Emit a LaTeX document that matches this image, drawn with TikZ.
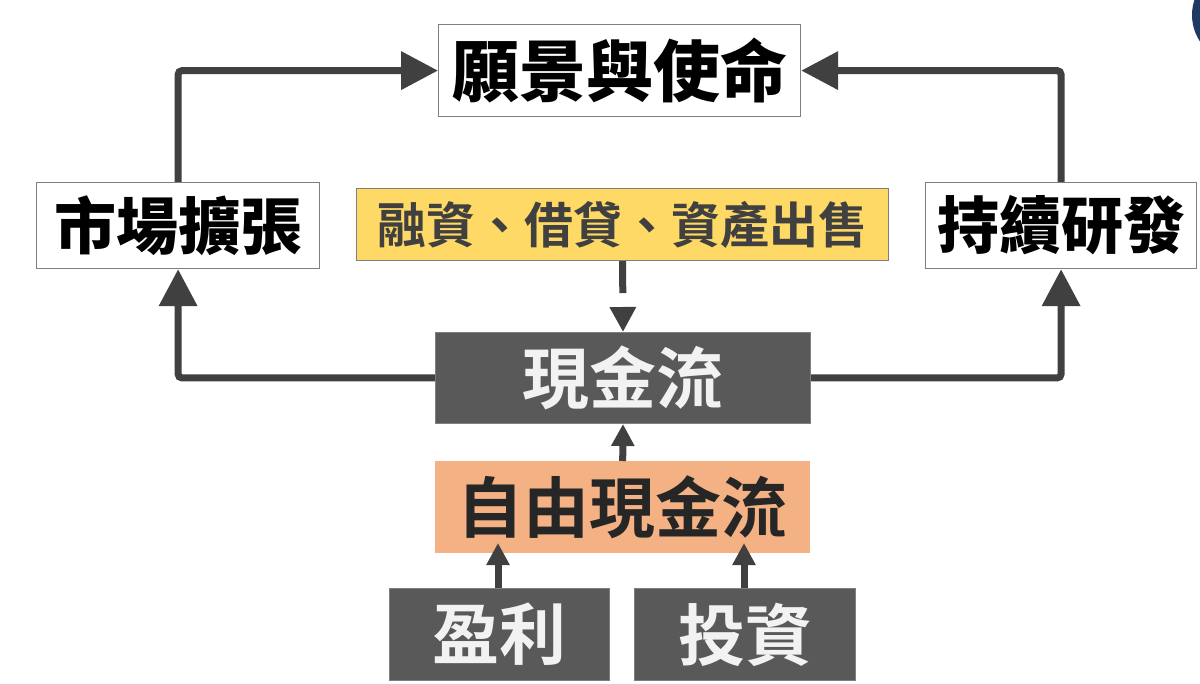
\documentclass[tikz,border=0pt]{standalone}
\usepackage{fontspec}
\setmainfont{Noto Sans CJK TC}[BoldFont={Noto Sans CJK TC Bold}]
\newfontfamily\heavycjk{Noto Sans CJK TC Black}
\usetikzlibrary{arrows.meta}
\definecolor{arrowgray}{HTML}{404040}
\definecolor{boxdark}{HTML}{595959}
\definecolor{boxline}{HTML}{7F7F7F}
\definecolor{lighttext}{HTML}{F2F2F2}
\definecolor{yellowbox}{HTML}{FFD966}
\definecolor{orangebox}{HTML}{F4B183}
\definecolor{navy}{HTML}{1F3864}
\tikzset{
  box/.style={rectangle, inner sep=0pt, anchor=north west, font=\bfseries},
  whitebox/.style={box, fill=white, draw=boxline, line width=1.2pt, text=black},
  darkbox/.style={box, fill=boxdark, draw=boxline, line width=1pt, text=lighttext},
  ybox/.style={box, fill=yellowbox, draw=boxline, line width=1.2pt, text=arrowgray},
  obox/.style={box, fill=orangebox, text=black!85},
  bigarr/.style={draw=arrowgray, line width=7pt, rounded corners=4pt, -{Triangle[length=37pt,width=37pt]}, arrowgray},
  smallarr/.style={draw=arrowgray, line width=7pt, -{Triangle[length=22pt,width=22pt]}, arrowgray},
  dasharr/.style={draw=arrowgray, line width=7pt, dash pattern=on 32pt off 60pt, -{Triangle[length=25pt,width=25pt]}, arrowgray}
}
\newcommand{\fs}[1]{\fontsize{#1}{#1}\selectfont}
\begin{document}
\begin{tikzpicture}[x=1pt,y=-1pt]
\useasboundingbox (0,0) rectangle (1200,684);
\clip (0,0) rectangle (1200,684);
\fill[white] (0,0) rectangle (1200,684);
\fill[navy] (1240,15) circle (48);

\node[whitebox, minimum width=362pt, minimum height=92pt, font=\heavycjk\fs{67}] (vis) at (438,24) {願景與使命};
\node[whitebox, minimum width=283pt, minimum height=86pt, font=\heavycjk\fs{62}] (mkt) at (36,182) {市場擴張};
\node[whitebox, minimum width=271pt, minimum height=86pt, font=\heavycjk\fs{62}] (rd) at (925,182) {持續研發};
\node[ybox, minimum width=532pt, minimum height=72pt, font=\bfseries\fs{49}] (fin) at (356,188) {融資、借貸、資產出售};
\node[darkbox, minimum width=375pt, minimum height=91pt, font=\bfseries\fs{67}] (cash) at (435,332) {現金流};
\node[obox, minimum width=375pt, minimum height=92pt, font=\bfseries\fs{66}] (fcf) at (435,461) {自由現金流};
\node[darkbox, minimum width=220pt, minimum height=92pt, font=\bfseries\fs{67}] (prof) at (389,588) {盈利};
\node[darkbox, minimum width=221pt, minimum height=92pt, font=\bfseries\fs{67}] (inv) at (634,588) {投資};

\coordinate (pt1) at (498,543);
\coordinate (pt2) at (744,543);
\coordinate (ps1) at (498,588);
\coordinate (ps2) at (744,588);

\draw[bigarr] (mkt.north) |- (vis.west);
\draw[bigarr] (rd.north) |- (vis.east);
\draw[bigarr] (cash.west) -| (mkt.south);
\draw[bigarr] (cash.east) -| (rd.south);
\draw[dasharr] (fin.south) -- (cash.north);
\draw[smallarr] (fcf.north) -- (cash.south);
\draw[smallarr] (ps1) -- (pt1);
\draw[smallarr] (ps2) -- (pt2);
\end{tikzpicture}
\end{document}
